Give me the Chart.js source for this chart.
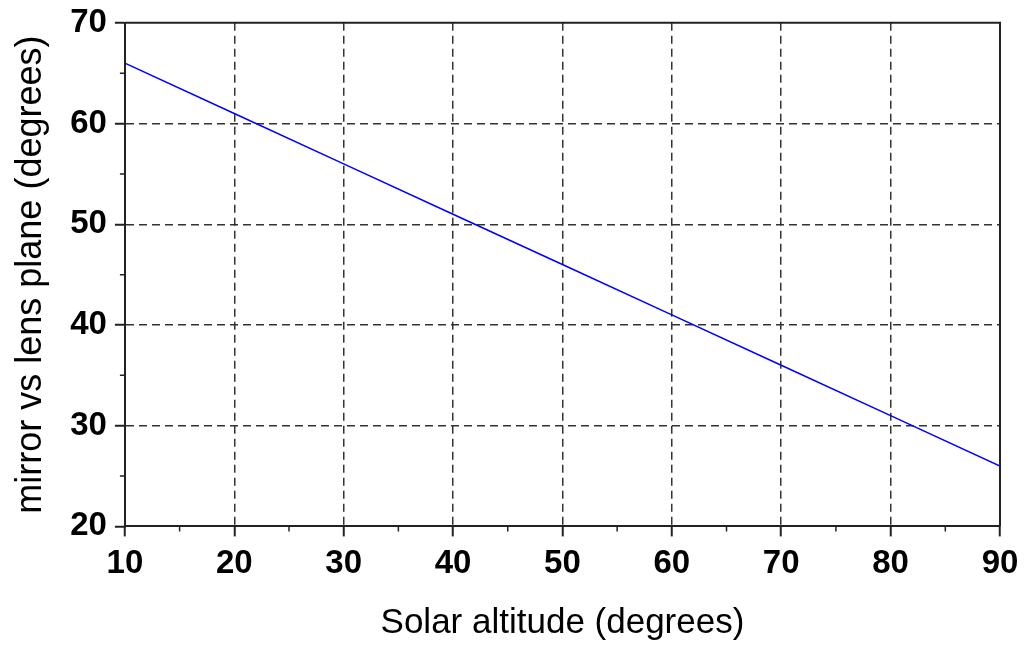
<!DOCTYPE html>
<html>
<head>
<meta charset="utf-8">
<script src="https://cdn.jsdelivr.net/npm/chart.js@4"></script>
<style>
  html, body { margin: 0; padding: 0; background: #fff; }
  #wrap { width: 1028px; height: 646px; }
</style>
</head>
<body>
<div id="wrap"><canvas id="chart" width="1028" height="646"></canvas></div>
<script>
// values
const altitude = [10, 20, 30, 40, 50, 60, 70, 80, 90];
const mirrorAngle = [66, 61, 56, 51, 46, 41, 36, 31, 26];
const xMinorTicks = [15, 25, 35, 45, 55, 65, 75, 85];
const yMinorTicks = [25, 35, 45, 55, 65];

const FONT = 'Liberation Sans, Arial, sans-serif';

// small ticks between the major ones + frame on top/right
const frameAndMinor = {
  id: 'frameAndMinor',
  afterDraw(chart) {
    const ctx = chart.ctx;
    const area = chart.chartArea;
    const xs = chart.scales.x, ys = chart.scales.y;
    ctx.save();
    ctx.strokeStyle = '#222';
    ctx.lineWidth = 2;
    ctx.beginPath();
    ctx.moveTo(area.left, area.top);
    ctx.lineTo(area.right, area.top);
    ctx.lineTo(area.right, area.bottom);
    ctx.stroke();
    ctx.lineWidth = 1.5;
    ctx.beginPath();
    xMinorTicks.forEach(v => {
      const px = xs.getPixelForValue(v);
      ctx.moveTo(px, area.bottom);
      ctx.lineTo(px, area.bottom + 5);
    });
    yMinorTicks.forEach(v => {
      const py = ys.getPixelForValue(v);
      ctx.moveTo(area.left, py);
      ctx.lineTo(area.left - 5, py);
    });
    ctx.stroke();
    ctx.restore();
  }
};

// no dashed grid line on top of the frame
function gridColor(c) {
  const s = c.scale;
  if (c.tick && (c.tick.value === s.min || c.tick.value === s.max)) return 'rgba(0,0,0,0)';
  return '#333';
}

const ctx = document.getElementById('chart').getContext('2d');
const chart = new Chart(ctx, {
  type: 'scatter',
  data: {
    datasets: [{
      label: 'mirror vs lens plane',
      data: altitude.map((x, i) => ({ x: x, y: mirrorAngle[i] })),
      showLine: true,
      borderColor: 'rgb(0, 0, 255)',
      borderWidth: 1.5,
      pointRadius: 0,
      fill: false
    }]
  },
  options: {
    responsive: false,
    animation: false,
    layout: {
      padding: { left: 9, right: 28, top: 0, bottom: 2 }
    },
    plugins: {
      legend: { display: false },
      tooltip: { enabled: false }
    },
    scales: {
      x: {
        type: 'linear',
        min: 10,
        max: 90,
        ticks: {
          stepSize: 10,
          color: '#000',
          padding: 8,
          font: { family: FONT, size: 33, weight: 'bold' }
        },
        grid: {
          color: gridColor,
          lineWidth: 1.5,
          tickLength: 10,
          tickColor: '#222',
          tickWidth: 2
        },
        border: { display: true, color: '#222', width: 2, dash: [8, 5] },
        title: {
          display: true,
          text: 'Solar altitude (degrees)',
          color: '#000',
          padding: { top: 10, bottom: 0 },
          font: { family: FONT, size: 35 }
        }
      },
      y: {
        type: 'linear',
        min: 20,
        max: 70,
        ticks: {
          stepSize: 10,
          color: '#000',
          padding: 8,
          font: { family: FONT, size: 33, weight: 'bold', lineHeight: 0.9 }
        },
        grid: {
          color: gridColor,
          lineWidth: 1.5,
          tickLength: 10,
          tickColor: '#222',
          tickWidth: 2
        },
        border: { display: true, color: '#222', width: 2, dash: [8, 5] },
        title: {
          display: true,
          text: 'mirror vs lens plane (degrees)',
          color: '#000',
          padding: { top: 0, bottom: 10 },
          font: { family: FONT, size: 36 }
        }
      }
    }
  },
  plugins: [frameAndMinor]
});
</script>
</body>
</html>
